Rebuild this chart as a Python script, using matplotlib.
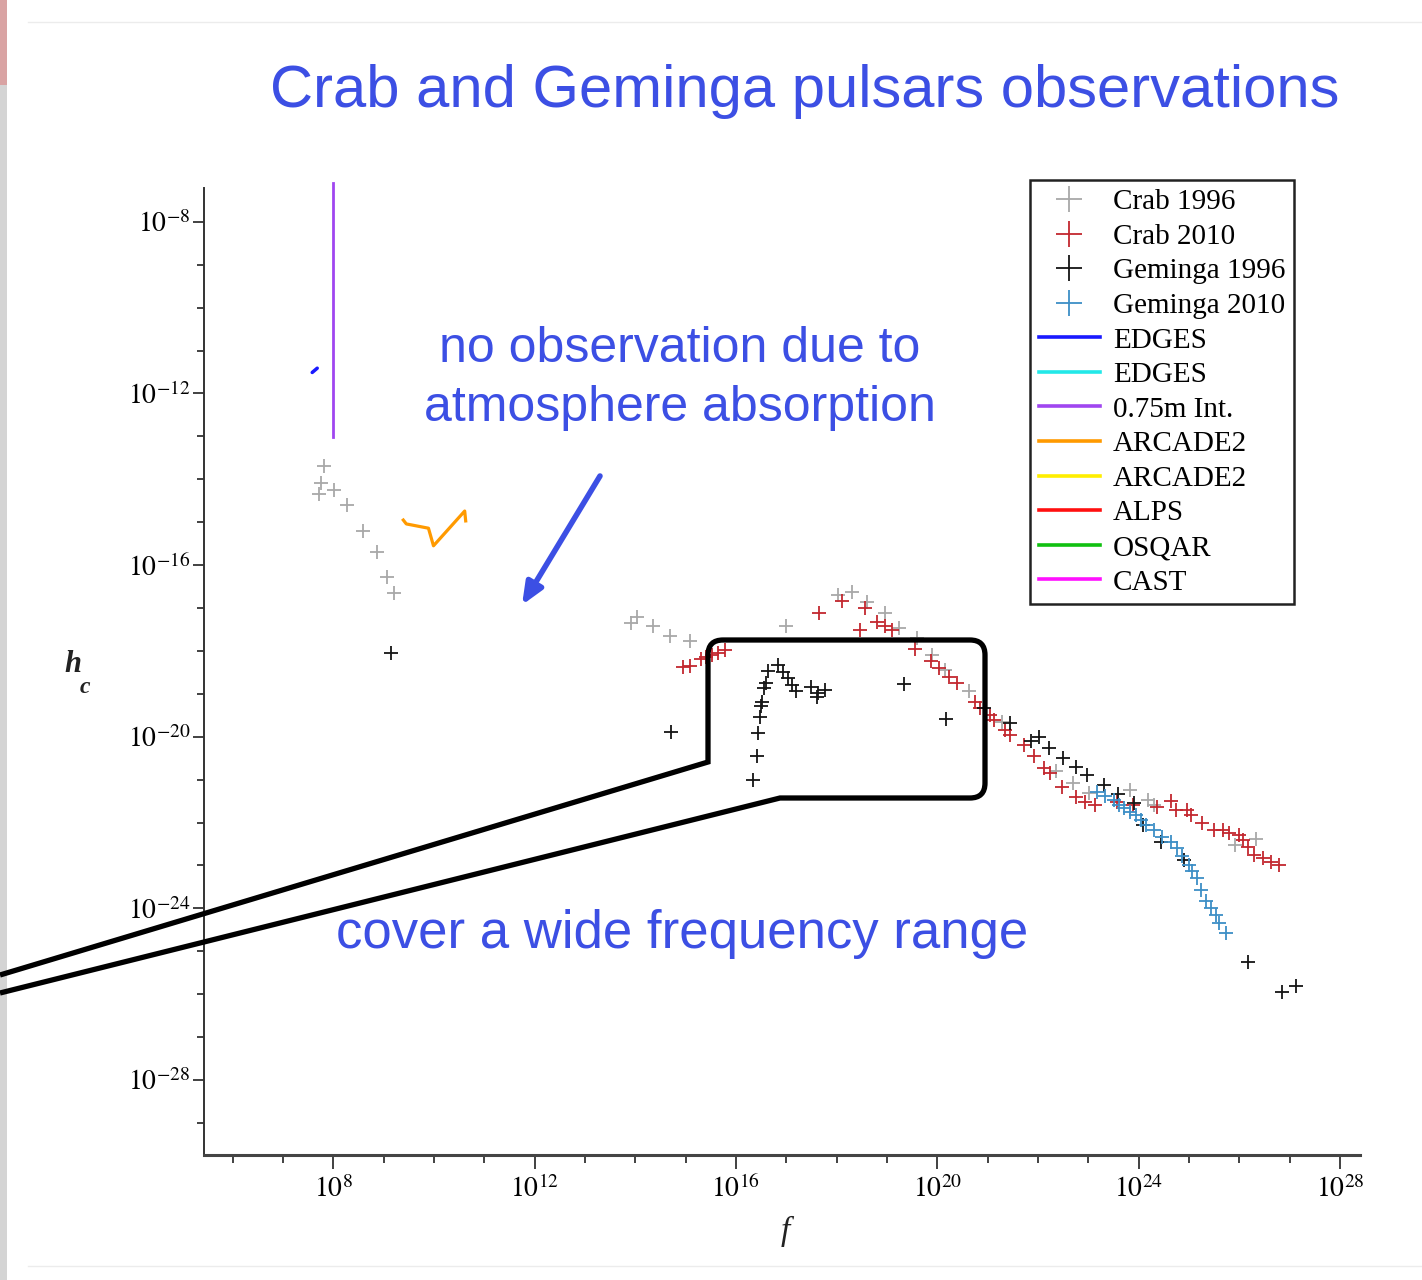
import numpy as np
import matplotlib
matplotlib.use("Agg")
import matplotlib.pyplot as plt
from matplotlib.path import Path
from matplotlib.patches import PathPatch, Rectangle
from matplotlib.lines import Line2D
from matplotlib.ticker import NullFormatter

plt.rcParams['mathtext.fontset'] = 'stix'
plt.rcParams['font.family'] = ['Liberation Serif', 'DejaVu Serif']

# log10 of frequency and characteristic strain, read per point
crab96_logf = [7.71, 7.75, 7.81, 8.01, 8.27, 8.58, 8.87, 9.07, 9.20,
               13.92, 14.04, 14.35, 14.68, 15.08, 17.00,
               18.03, 18.30, 18.60, 18.96, 19.23, 19.59, 19.89, 20.16, 20.63,
               21.29, 22.35, 22.70, 23.02, 23.82, 24.18, 24.31, 25.91, 26.33]
crab96_logh = [-14.34, -14.08, -13.70, -14.25, -14.60, -15.20, -15.70, -16.28, -16.64,
               -17.35, -17.20, -17.41, -17.65, -17.78, -17.43,
               -16.69, -16.62, -16.85, -17.12, -17.47, -17.70, -18.09, -18.44, -18.93,
               -19.65, -20.81, -21.08, -21.31, -21.24, -21.47, -21.59, -22.52, -22.38]

crab10_logf = [14.95, 15.08, 15.31, 15.41, 15.53, 15.64, 15.78,
               17.65, 18.10, 18.46, 18.56, 18.80, 18.96, 19.10, 19.56, 19.88, 20.03,
               20.23, 20.39, 20.75, 20.85, 21.05, 21.12, 21.35, 21.45, 21.72, 21.92,
               22.12, 22.25, 22.48, 22.76, 22.94, 23.14, 23.58, 23.88, 24.37, 24.64,
               24.74, 24.97, 25.04, 25.27, 25.50, 25.67, 25.80, 26.00, 26.07, 26.17,
               26.30, 26.47, 26.63, 26.80]
crab10_logh = [-18.38, -18.35, -18.19, -18.15, -18.09, -18.04, -17.98,
               -17.12, -16.83, -17.51, -17.00, -17.32, -17.43, -17.51, -17.95, -18.23, -18.40,
               -18.60, -18.75, -19.18, -19.34, -19.49, -19.61, -19.84, -19.96, -20.19, -20.46,
               -20.73, -20.85, -21.17, -21.40, -21.52, -21.59, -21.52, -21.59, -21.63, -21.51,
               -21.71, -21.71, -21.82, -22.02, -22.17, -22.17, -22.25, -22.29, -22.41, -22.56,
               -22.76, -22.83, -22.91, -22.99]

gem96_logf = [9.14, 14.71, 16.34, 16.41, 16.44, 16.47, 16.49, 16.52, 16.55, 16.59,
              16.64, 16.84, 16.94, 17.04, 17.12, 17.20, 17.50, 17.62, 17.64, 17.76,
              19.33, 20.18, 20.92, 21.44, 21.86, 22.03, 22.22, 22.50, 22.75, 22.98,
              23.31, 23.60, 23.90, 24.08, 24.44, 24.91, 26.17, 26.86, 27.13]
gem96_logh = [-18.05, -19.88, -21.02, -20.45, -19.92, -19.53, -19.28, -19.18, -18.87, -18.75,
              -18.48, -18.33, -18.50, -18.62, -18.79, -18.93, -18.85, -19.07, -18.99, -18.91,
              -18.78, -19.59, -19.34, -19.69, -20.10, -20.00, -20.27, -20.50, -20.70, -20.89,
              -21.12, -21.33, -21.55, -22.06, -22.45, -22.87, -25.24, -25.96, -25.81]

gem10_logf = [23.18, 23.34, 23.51, 23.62, 23.72, 23.82, 23.94, 24.04, 24.14, 24.31,
              24.47, 24.64, 24.77, 24.87, 25.01, 25.07, 25.17, 25.24, 25.34, 25.44,
              25.54, 25.60, 25.74]
gem10_logh = [-21.29, -21.39, -21.47, -21.59, -21.67, -21.75, -21.82, -21.94, -22.06, -22.17,
              -22.33, -22.45, -22.60, -22.79, -22.99, -23.14, -23.30, -23.57, -23.84, -24.00,
              -24.15, -24.35, -24.58]

# experimental bounds
edges_logf = [7.58, 7.68]
edges_logh = [-11.51, -11.41]
int075_logf = [7.99, 7.99]
int075_logh = [-13.01, -7.09]
arcade_logf = [9.39, 9.45, 9.89, 9.99, 10.61, 10.63]
arcade_logh = [-14.95, -15.04, -15.14, -15.55, -14.74, -14.97]

bound_names = ['EDGES', 'EDGES', '0.75m Int.', 'ARCADE2', 'ARCADE2', 'ALPS', 'OSQAR', 'CAST']
bound_colors = ['#1a1aff', '#22e8e8', '#a046f0', '#ff9a00', '#ffee00', '#ff1010', '#10c010', '#ff10ff']

major_exp_x = [8, 12, 16, 20, 24, 28]
major_exp_y = [-8, -12, -16, -20, -24, -28]

W, H = 1422, 1280
blue = '#3c4fe4'


def px(x, y):
    return (x / W, 1 - y / H)


fig = plt.figure(figsize=(W / 100, H / 100), dpi=100)
fig.patch.set_facecolor('white')

# slide frame
fig.patches.append(Rectangle(px(0, 1280), 7 / W, 1, transform=fig.transFigure,
                             facecolor='#d4d4d4', edgecolor='none'))
fig.patches.append(Rectangle(px(0, 85), 7 / W, 85 / H, transform=fig.transFigure,
                             facecolor='#d9a3a3', edgecolor='none'))
for yy in (22, 1266):
    fig.add_artist(Line2D([28 / W, 1], [1 - yy / H] * 2, transform=fig.transFigure,
                          color='#ececec', lw=1))

ax = fig.add_axes([204 / W, 1 - 1155 / H, (1360 - 204) / W, (1155 - 188) / H])
ax.set_xscale('log')
ax.set_yscale('log')

p = lambda v: 10.0 ** np.array(v)
mk = dict(marker='+', linestyle='none', markersize=10, markeredgewidth=1.3)
h1, = ax.plot(p(crab96_logf), p(crab96_logh), color='#a8a8a8', **mk)
h2, = ax.plot(p(crab10_logf), p(crab10_logh), color='#c3282f', **mk)
h3, = ax.plot(p(gem96_logf), p(gem96_logh), color='#151515', **mk)
h4, = ax.plot(p(gem10_logf), p(gem10_logh), color='#3d8fc6', **mk)

ax.plot(p(edges_logf), p(edges_logh), color=bound_colors[0], lw=2.5, solid_capstyle='round')
ax.plot(p(int075_logf), p(int075_logh), color=bound_colors[2], lw=2, clip_on=False)
ax.plot(p(arcade_logf), p(arcade_logh), color=bound_colors[3], lw=2.3)

ax.set_xlim(10 ** 5.43, 10 ** 28.4)
ax.set_ylim(10 ** -29.75, 10 ** -7.21)

ax.set_xticks([10.0 ** e for e in major_exp_x])
ax.set_xticklabels([r'$10^{%d}$' % e for e in major_exp_x])
ax.set_xticks([10.0 ** e for e in range(6, 29) if e not in major_exp_x], minor=True)
ax.set_yticks([10.0 ** e for e in major_exp_y])
ax.set_yticklabels([r'$10^{%d}$' % e for e in major_exp_y])
ax.set_yticks([10.0 ** e for e in range(-29, -7) if e not in major_exp_y], minor=True)
ax.xaxis.set_minor_formatter(NullFormatter())
ax.yaxis.set_minor_formatter(NullFormatter())

ax.tick_params(which='both', direction='out', color='#333333', width=1.3, labelsize=20)
ax.tick_params(axis='x', which='major', length=10, pad=5)
ax.tick_params(axis='x', which='minor', length=6)
ax.tick_params(axis='y', which='major', length=8, pad=2)
ax.tick_params(axis='y', which='minor', length=5)
for s in ('top', 'right'):
    ax.spines[s].set_visible(False)
ax.spines['left'].set_color('#333333')
ax.spines['left'].set_linewidth(1.4)
ax.spines['bottom'].set_color('#444444')
ax.spines['bottom'].set_linewidth(2.2)

# axis labels
fig.text(*px(64, 672), 'h', fontsize=22, fontstyle='italic', fontweight='bold',
         ha='left', va='baseline', color='#222222')
fig.text(*px(80, 693), 'c', fontsize=17, fontstyle='italic', fontweight='bold',
         ha='left', va='baseline', color='#222222')
fig.text(*px(785, 1240), 'f', fontsize=24, fontstyle='italic',
         ha='center', va='baseline', color='#222222')

leg_handles = [h1, h2, h3, h4] + [Line2D([], [], color=c, lw=2.6) for c in bound_colors]
leg_labels = ['Crab 1996', 'Crab 2010', 'Geminga 1996', 'Geminga 2010'] + bound_names
leg = fig.legend(leg_handles, leg_labels, loc='upper left', bbox_to_anchor=px(1030, 180),
                 bbox_transform=fig.transFigure, fontsize=21, markerscale=1.9,
                 handlelength=2.1, handletextpad=0.45, labelspacing=0.28, borderpad=0.3,
                 borderaxespad=0, fancybox=False, framealpha=1)
leg.get_frame().set_edgecolor('#222222')
leg.get_frame().set_linewidth(1.8)

# headline and annotations
sans = ['Liberation Sans', 'DejaVu Sans']
fig.text(*px(805, 107), 'Crab and Geminga pulsars observations', fontsize=43,
         color=blue, family=sans, ha='center', va='baseline')
fig.text(*px(680, 362), 'no observation due to', fontsize=36,
         color=blue, family=sans, ha='center', va='baseline')
fig.text(*px(680, 421), 'atmosphere absorption', fontsize=36,
         color=blue, family=sans, ha='center', va='baseline')
fig.text(*px(682, 948), 'cover a wide frequency range', fontsize=38,
         color=blue, family=sans, ha='center', va='baseline')

fig.add_artist(plt.Annotation('', xy=px(522, 605), xytext=px(600, 476),
                              xycoords='figure fraction', textcoords='figure fraction',
                              arrowprops=dict(arrowstyle='-|>,head_length=1.3,head_width=0.55',
                                              color=blue, lw=4, shrinkA=0, shrinkB=0)))

# zoom callout: rounded box with a tail running off the left edge
r = 15
verts = [(0, 975), (708, 762), (708, 640 + r), (708, 640), (708 + r, 640),
         (985 - r, 640), (985, 640), (985, 640 + r), (985, 798 - r), (985, 798),
         (985 - r, 798), (780, 798), (0, 993)]
codes = [Path.MOVETO, Path.LINETO, Path.LINETO, Path.CURVE3, Path.CURVE3,
         Path.LINETO, Path.CURVE3, Path.CURVE3, Path.LINETO, Path.CURVE3,
         Path.CURVE3, Path.LINETO, Path.LINETO]
callout = Path([px(x, y) for x, y in verts], codes)
fig.patches.append(PathPatch(callout, transform=fig.transFigure, facecolor='none',
                             edgecolor='black', lw=3.8, joinstyle='miter'))

fig.savefig('out.png', dpi=100)
